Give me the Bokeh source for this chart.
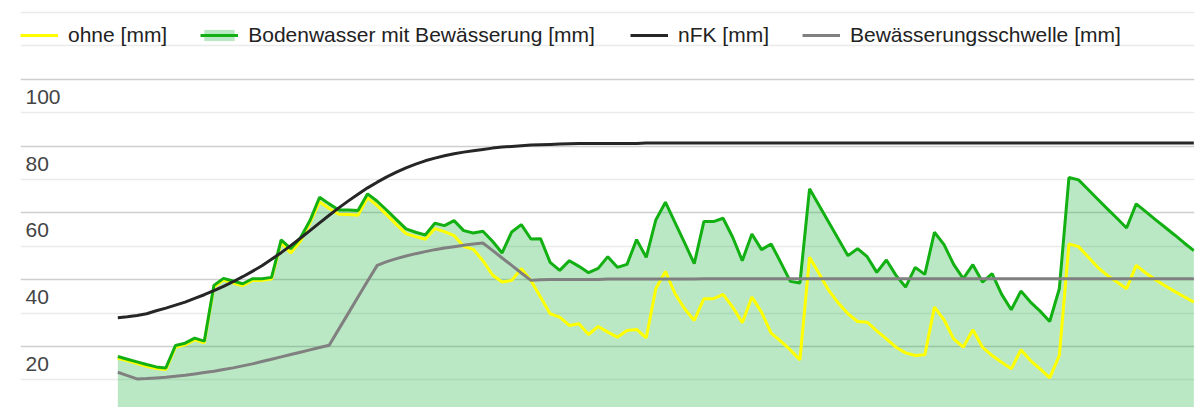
from bokeh.plotting import figure
from bokeh.models import Range1d, FixedTicker, Legend, LegendItem, Label
from bokeh.embed import file_html
from bokeh.resources import INLINE

# ---------------- data ----------------
days = list(range(113))

ohne = [26.5, 25.7, 24.9, 24.1, 23.4, 23.1, 29.8, 30.5, 32.0, 31.1,
        47.8, 49.9, 49.0, 48.2, 49.8, 49.8, 50.2, 61.2, 58.0, 61.5,
        67.0, 73.3, 71.3, 69.6, 69.5, 69.3, 74.5, 72.2, 69.4, 66.5,
        63.8, 62.9, 62.1, 65.3, 64.4, 63.2, 60.0, 59.1, 55.7, 51.4,
        49.3, 49.8, 53.3, 49.8, 44.8, 39.8, 38.8, 36.3, 36.8, 33.6,
        36.0, 34.3, 32.8, 34.8, 35.1, 32.6, 47.3, 52.5, 45.8, 41.3,
        37.8, 44.3, 44.3, 45.6, 41.8, 37.1, 44.8, 40.3, 34.0, 31.6,
        29.0, 26.0, 56.7, 51.8, 46.8, 43.0, 39.8, 37.5, 37.3, 34.7,
        32.3, 29.8, 28.1, 27.3, 27.5, 41.8, 38.0, 32.3, 29.8, 35.0,
        29.8, 27.3, 25.3, 23.3, 29.0, 25.8, 23.3, 20.6, 27.3, 60.7,
        59.9, 56.8, 53.7, 51.3, 49.3, 47.3, 54.3, 52.0, 50.0, 48.2,
        46.5, 44.9, 43.3]

bodenwasser = [27.0, 26.2, 25.4, 24.6, 23.9, 23.6, 30.3, 31.0, 32.5, 31.6,
               48.3, 50.4, 49.6, 48.8, 50.3, 50.3, 50.7, 61.9, 59.3, 62.5,
               67.7, 74.7, 72.7, 70.9, 70.9, 70.7, 75.7, 73.5, 70.8, 68.0,
               65.2, 64.2, 63.4, 66.9, 66.2, 67.7, 64.7, 64.0, 64.5, 61.5,
               58.0, 64.3, 66.5, 62.2, 62.3, 55.2, 52.8, 55.7, 54.0, 52.1,
               53.4, 56.9, 53.7, 54.6, 62.0, 56.7, 67.9, 73.2, 67.1, 61.0,
               54.8, 67.4, 67.4, 68.4, 62.7, 55.7, 63.7, 59.0, 60.7, 55.2,
               49.5, 49.0, 77.2, 72.2, 67.2, 62.2, 57.2, 59.3, 56.9, 52.2,
               55.9, 51.3, 47.8, 53.7, 51.6, 64.2, 60.5, 54.6, 50.3, 54.5,
               49.3, 51.8, 45.6, 41.0, 46.6, 43.3, 40.6, 37.5, 47.3, 80.6,
               79.9, 77.0, 74.1, 71.2, 68.4, 65.5, 72.7, 70.4, 68.0, 65.7,
               63.4, 61.0, 58.7]

nfk = [38.6, 38.9, 39.3, 39.8, 40.7, 41.5, 42.4, 43.3, 44.4, 45.5,
       46.7, 48.0, 49.4, 50.9, 52.5, 54.2, 56.1, 58.1, 60.2, 62.4,
       64.7, 67.0, 69.3, 71.5, 73.6, 75.6, 77.5, 79.2, 80.8, 82.2,
       83.5, 84.6, 85.6, 86.4, 87.1, 87.7, 88.2, 88.6, 89.0, 89.4,
       89.7, 89.9, 90.1, 90.3, 90.4, 90.5, 90.6, 90.7, 90.8, 90.8,
       90.8, 90.8, 90.8, 90.8, 90.8, 90.9, 90.9, 90.9, 90.9, 90.9,
       90.9, 90.9, 90.9, 90.9, 90.9, 90.9, 90.9, 90.9, 90.9, 90.9,
       90.9, 90.9, 90.9, 90.9, 90.9, 90.9, 90.9, 90.9, 90.9, 90.9,
       90.9, 90.9, 90.9, 90.9, 90.9, 90.9, 90.9, 90.9, 90.9, 90.9,
       90.9, 90.9, 90.9, 90.9, 90.9, 90.9, 90.9, 90.9, 90.9, 90.9,
       90.9, 90.9, 90.9, 90.9, 90.9, 90.9, 90.9, 90.9, 90.9, 90.9,
       90.9, 90.9, 90.9]

schwelle = [22.3, 21.3, 20.3, 20.4, 20.6, 20.8, 21.1, 21.4, 21.8, 22.2,
            22.6, 23.1, 23.6, 24.2, 24.8, 25.5, 26.2, 26.9, 27.6, 28.3,
            29.0, 29.7, 30.4, 35.2, 40.0, 44.8, 49.6, 54.3, 55.4, 56.3,
            57.1, 57.8, 58.4, 59.0, 59.5, 59.9, 60.3, 60.7, 61.0, 58.8,
            56.5, 54.3, 52.0, 49.8, 50.0, 50.1, 50.1, 50.1, 50.1, 50.1,
            50.1, 50.2, 50.2, 50.2, 50.2, 50.2, 50.2, 50.2, 50.2, 50.2,
            50.2, 50.3, 50.3, 50.3, 50.3, 50.3, 50.3, 50.3, 50.3, 50.3,
            50.3, 50.3, 50.3, 50.3, 50.3, 50.3, 50.3, 50.3, 50.3, 50.3,
            50.3, 50.3, 50.3, 50.3, 50.3, 50.3, 50.3, 50.3, 50.3, 50.3,
            50.3, 50.3, 50.3, 50.3, 50.3, 50.3, 50.3, 50.3, 50.3, 50.3,
            50.3, 50.3, 50.3, 50.3, 50.3, 50.3, 50.3, 50.3, 50.3, 50.3,
            50.3, 50.3, 50.3]

series_names = ["ohne [mm]", "Bodenwasser mit Bewässerung [mm]",
                "nFK [mm]", "Bewässerungsschwelle [mm]"]

tick_values = [20, 40, 60, 80, 100]
tick_labels = ["20", "40", "60", "80", "100"]
grid_major = [30, 50, 70, 90, 110]
grid_minor = [20, 40, 60, 80, 100, 120, 130]

FONT = "Liberation Sans"

# ---------------- figure ----------------
p = figure(width=1203, height=407,
           x_range=Range1d(-10.13, 112.07), y_range=Range1d(11.74, 131.2),
           x_axis_location=None, y_axis_location=None,
           output_backend="svg", toolbar_location=None,
           min_border_left=20, min_border_right=9,
           min_border_top=8, min_border_bottom=0)
p.outline_line_color = None
p.background_fill_color = "white"
p.border_fill_color = "white"

p.xgrid.visible = False
p.ygrid.ticker = FixedTicker(ticks=grid_major, minor_ticks=grid_minor)
p.ygrid.grid_line_color = "#cfcfcf"
p.ygrid.grid_line_width = 1.5
p.ygrid.minor_grid_line_color = "#ebebeb"
p.ygrid.minor_grid_line_width = 1.5

r_area = p.varea(x=days, y1=0, y2=bodenwasser, fill_color="#1db43a", fill_alpha=0.3)
r_ohne = p.line(days, ohne, line_color="#ffff00", line_width=3)
r_green = p.line(days, bodenwasser, line_color="#12b012", line_width=3)
r_nfk = p.line(days, nfk, line_color="#262626", line_width=3)
r_thr = p.line(days, schwelle, line_color="#808080", line_width=3)

for v, t in zip(tick_values, tick_labels):
    p.add_layout(Label(x=5, y=v, x_units="screen", y_units="data", text=t,
                       text_font=FONT, text_font_size="21px", text_color="#444444",
                       text_baseline="alphabetic", y_offset=16))

def make_legend(items, loc):
    return Legend(items=items, location=loc, orientation="horizontal",
                  padding=0, margin=0, spacing=33, label_standoff=10,
                  glyph_width=38, glyph_height=14,
                  label_text_font=FONT, label_text_font_size="21px",
                  label_text_color="#222222",
                  border_line_color=None, background_fill_alpha=0)

leg1 = make_legend([LegendItem(label=series_names[0], renderers=[r_ohne]),
                    LegendItem(label=series_names[1], renderers=[r_area, r_green])],
                   (0, 360))
leg2 = make_legend([LegendItem(label=series_names[2], renderers=[r_nfk]),
                    LegendItem(label=series_names[3], renderers=[r_thr])],
                   (610, 360))
p.add_layout(leg1)
p.add_layout(leg2)

open("out.html", "w").write(file_html(p, INLINE))
